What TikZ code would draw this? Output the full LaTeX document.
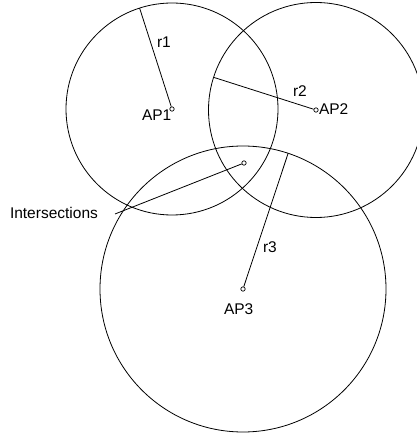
\documentclass[tikz,border=0pt]{standalone}
\usepackage{fontspec}
\setmainfont{Liberation Sans}
\usetikzlibrary{calc}
\begin{document}
\begin{tikzpicture}[x=1pt,y=1pt,line width=0.8pt,
  marker/.style={draw,circle,fill=white,minimum size=4.4pt,inner sep=0pt,line width=0.7pt},
  lbl/.style={anchor=base west,inner sep=0pt,outer sep=0pt,font=\fontsize{15.5}{18}\selectfont}]
\useasboundingbox (0,0) rectangle (416,434);
% circles
\draw (172,325) circle (106);
\draw (316,324) circle (107.5);
\draw (243,145) circle (143);
% centres
\coordinate (c1) at (172,325);
\coordinate (c2) at (316,324);
\coordinate (c3) at (243,145);
\coordinate (e1) at ($(c1)+(107.8:106pt)$);
\coordinate (e2) at ($(c2)+(162.3:107.5pt)$);
\coordinate (e3) at ($(c3)+(71.6:143pt)$);
\node[marker] (ap1) at (c1) {};
\node[marker] (ap2) at (c2) {};
\node[marker] (ap3) at (c3) {};
\node[marker] (int) at (244,271) {};
\coordinate (lead) at (115,220);
% radii
\draw (ap1) -- (e1);
\draw (ap2) -- (e2);
\draw (ap3) -- (e3);
\draw (lead) -- (int);
% labels
\node[lbl] (t1) at (157,386) {r1};
\node[lbl] (t2) at (293,337) {r2};
\node[lbl] (t3) at (263,181) {r3};
\node[lbl] (a1) at (142,313) {AP1};
\node[lbl] (a2) at (319,319) {AP2};
\node[lbl] (a3) at (224,119) {AP3};
\node[lbl] (li) at (10,215) {Intersections};
\end{tikzpicture}
\end{document}
